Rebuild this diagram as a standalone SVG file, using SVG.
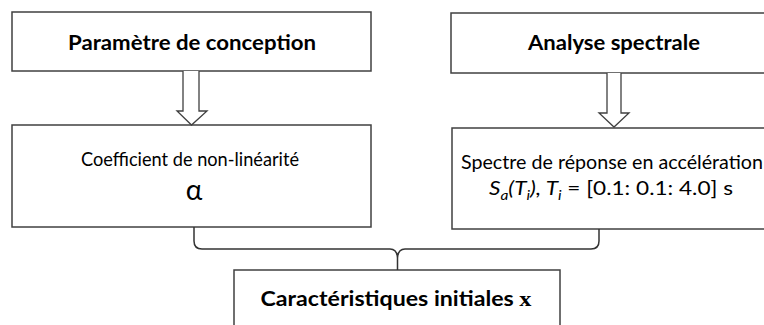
<svg xmlns="http://www.w3.org/2000/svg" width="764" height="325" viewBox="0 0 764 325">
<style>
.box{fill:#fff;stroke:#404040;stroke-width:1.5}
.arr{fill:#fff;stroke:#404040;stroke-width:1.3;stroke-linejoin:miter}
.brace{fill:none;stroke:#333;stroke-width:1.5}
.t{font-family:Lato,"Open Sans",sans-serif;fill:#000;text-anchor:middle}
.b{font-weight:bold;font-size:21px}
.n{font-size:19px}
</style>
<rect width="764" height="325" fill="#fff"/>
<g id="parametre">
<rect class="box" x="12" y="12" width="359" height="59"/>
<text class="t b" x="192" y="50" textLength="248" lengthAdjust="spacingAndGlyphs">Paramètre de conception</text>
</g>
<g id="analyse">
<rect class="box" x="451" y="13" width="330" height="60"/>
<text class="t b" x="614" y="50" textLength="172" lengthAdjust="spacingAndGlyphs">Analyse spectrale</text>
</g>
<g id="coefficient">
<rect class="box" x="12" y="125" width="359" height="102"/>
<text class="t n" x="190" y="166" textLength="218" lengthAdjust="spacingAndGlyphs">Coefficient de non-linéarité</text>
<text class="t" x="194" y="200" font-size="28">α</text>
</g>
<g id="spectre">
<rect class="box" x="452" y="128" width="330" height="101"/>
<text class="t n" x="612" y="169" textLength="302" lengthAdjust="spacingAndGlyphs">Spectre de réponse en accélération</text>
<text class="t n" x="611" y="195" textLength="244" lengthAdjust="spacingAndGlyphs"><tspan font-style="italic">S</tspan><tspan font-style="italic" font-size="13" dy="5">a</tspan><tspan font-style="italic" dy="-5">(T</tspan><tspan font-style="italic" font-size="13" dy="5">i</tspan><tspan font-style="italic" dy="-5">), T</tspan><tspan font-style="italic" font-size="13" dy="5">i</tspan><tspan dy="-5"> = [0.1: 0.1: 4.0] s</tspan></text>
</g>
<g id="caracteristiques">
<rect class="box" x="234" y="270" width="326" height="70"/>
<text class="t b" x="396" y="306" textLength="271" lengthAdjust="spacingAndGlyphs">Caractéristiques initiales <tspan font-family="'Liberation Serif',serif" font-size="22">x</tspan></text>
</g>
<g id="connectors">
<path class="arr" d="M183,71 V111 H177 L191.5,125 L207,111 H199 V71"/>
<path class="arr" d="M607,73 V113 H599 L614,127 L629,113 H621 V73"/>
<path class="brace" d="M194,227 V241 Q194,249 202,249 H390 Q397,249 397.5,258 V270 M599,229 V241 Q599,249 591,249 H405 Q398,249 397.5,258"/>
</g>
</svg>
